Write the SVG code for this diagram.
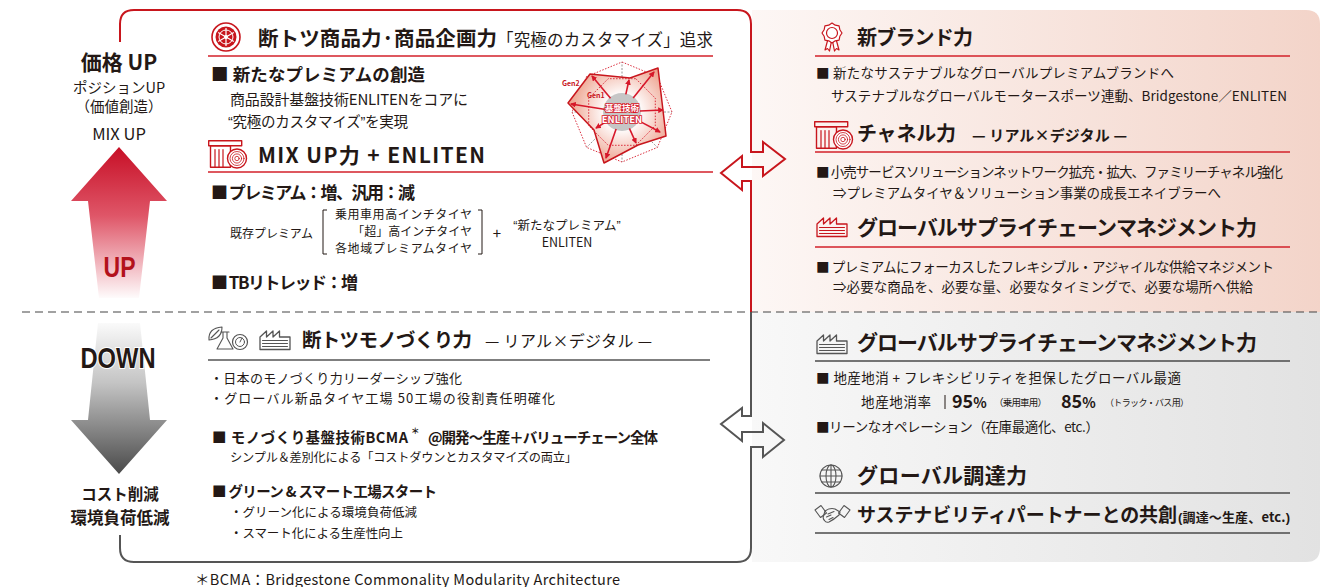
<svg xmlns="http://www.w3.org/2000/svg" xmlns:xlink="http://www.w3.org/1999/xlink" width="1328" height="587" viewBox="0 0 1328 587">
  <defs>
    <style>
      text { font-family: "Noto Sans CJK JP", "Noto Sans", sans-serif; fill: #231815; }
      .b { font-weight: 700; }
      .lat { font-family: "Liberation Sans", Arial, sans-serif; }
      .rb { font-size: 13.5px; }
      .hd { font-size: 21px; font-weight: 700; }
      .rule-red { stroke: #d3202a; stroke-width: 1.3; }
      .rule-dark { stroke: #4a4a4a; stroke-width: 1.3; }
      .ico { fill: none; stroke: currentColor; stroke-linejoin: round; stroke-linecap: round; }
      .frame { fill: none; stroke-width: 2; stroke-linejoin: miter; }
    </style>
    <linearGradient id="gPink" gradientUnits="userSpaceOnUse" x1="752" y1="0" x2="1322" y2="0">
      <stop offset="0" stop-color="#fdf7f5"/>
      <stop offset="1" stop-color="#f3d4c9"/>
    </linearGradient>
    <linearGradient id="gGray" gradientUnits="userSpaceOnUse" x1="752" y1="0" x2="1322" y2="0">
      <stop offset="0" stop-color="#f8f8f8"/>
      <stop offset="1" stop-color="#e2e2e2"/>
    </linearGradient>
    <linearGradient id="gUp" gradientUnits="userSpaceOnUse" x1="0" y1="147" x2="0" y2="300">
      <stop offset="0" stop-color="#c70f26"/>
      <stop offset="0.45" stop-color="#df5668"/>
      <stop offset="1" stop-color="#ffffff"/>
    </linearGradient>
    <linearGradient id="gDown" gradientUnits="userSpaceOnUse" x1="0" y1="322" x2="0" y2="474">
      <stop offset="0" stop-color="#fbfbfb"/>
      <stop offset="0.4" stop-color="#c4c4c4"/>
      <stop offset="1" stop-color="#4a4a4a"/>
    </linearGradient>
    <radialGradient id="gGen2" gradientUnits="userSpaceOnUse" cx="622" cy="112" r="56">
      <stop offset="0.3" stop-color="#ffffff"/>
      <stop offset="1" stop-color="#ec9a84"/>
    </radialGradient>
    <marker id="ah" viewBox="0 0 6 6" refX="5" refY="3" markerWidth="3.6" markerHeight="3.6" orient="auto">
      <path d="M0,0 L6,3 L0,6 Z" fill="#d7182a"/>
    </marker>

    <!-- store front with tyre -->
    <g id="icoStore" class="ico">
      <rect x="0.7" y="0.7" width="33" height="5" stroke-width="1.4"/>
      <rect x="2.5" y="5.7" width="20" height="21.6" stroke-width="1.4"/>
      <path d="M7,9.5 V27 M11,9.5 V27 M15,9.5 V27" stroke-width="1.2"/>
      <circle cx="29" cy="18.5" r="9.5" fill="#fff" stroke-width="1.4"/>
      <circle cx="29" cy="18.5" r="7" stroke-width="0.8"/>
      <circle cx="29" cy="18.5" r="4.6" stroke-width="0.8"/>
      <circle cx="29" cy="18.5" r="2.2" stroke-width="0.8"/>
    </g>
    <!-- factory with saw-tooth roof -->
    <g id="icoFactory" class="ico">
      <path d="M1,20.5 V8 L7.5,2 V8 L14,2 V8 L20.5,2 V8 H31 V20.5 Z" stroke-width="1.3"/>
      <path d="M3.5,11.5 H28.5 M3.5,14.5 H28.5 M3.5,17.5 H28.5" stroke-width="1"/>
    </g>
  </defs>

  <rect width="1328" height="587" fill="#ffffff"/>

  <!-- right-hand panels -->
  <g id="panel-right">
    <path d="M752,10 H1306 Q1320,10 1320,24 V312 H752 Z" fill="url(#gPink)"/>
    <path d="M752,312 H1320 V548 Q1320,562 1306,562 H752 Z" fill="url(#gGray)"/>
  </g>

  <!-- divider between price-up and cost-down halves -->
  <line id="divider" x1="22" y1="312" x2="1320" y2="312" stroke="#444" stroke-width="1.2" stroke-dasharray="8 5"/>

  <!-- frame lines and the two double arrows -->
  <g id="connectors">
    <path class="frame" stroke="#c8161d" d="M120,42 V24 Q120,10 134,10 H737 Q751,10 751,24 V152 H763 V142 L785,159 L763,176 V167 H742 V156 L721,173 L742,190 V181 H751 V312"/>
    <path class="frame" stroke="#555" d="M751,312 V416 H742 V408 L721,424 L742,441 V432 H763 V423 L784,440 L763,457 V447 H751 V548 Q751,562 737,562 H134 Q120,562 120,548 V535"/>
  </g>

  <!-- left column: UP / DOWN arrows -->
  <g id="node-up">
    <text class="b" x="119" y="70" font-size="21" text-anchor="middle">価格 UP</text>
    <text x="119" y="93" font-size="14.5" text-anchor="middle">ポジションUP</text>
    <text x="119" y="112" font-size="14.5" text-anchor="middle">（価値創造）</text>
    <text x="119" y="140" font-size="16.5" text-anchor="middle">MIX UP</text>
    <path d="M119,147 L167,201 H150 L139,298 H99 L88,201 H71 Z" fill="url(#gUp)"/>
    <text class="lat b" x="119.5" y="277" font-size="30" text-anchor="middle" textLength="32" lengthAdjust="spacingAndGlyphs" style="fill:#b3111b">UP</text>
  </g>
  <g id="node-down">
    <path d="M98,323 H140 L150,420 H167 L119,474 L71,420 H88 Z" fill="url(#gDown)"/>
    <text class="lat b" x="118" y="368" font-size="30" text-anchor="middle" textLength="75" lengthAdjust="spacingAndGlyphs" stroke="#ffffff" stroke-width="2" paint-order="stroke">DOWN</text>
    <text class="b" x="120" y="500" font-size="15.5" text-anchor="middle">コスト削減</text>
    <text class="b" x="120" y="524" font-size="16.5" text-anchor="middle">環境負荷低減</text>
  </g>

  <!-- product power -->
  <g id="node-product">
    <g transform="translate(226,37)">
      <circle r="14" fill="#fff" stroke="#c8161d" stroke-width="1.6"/>
      <circle r="10.5" fill="#c8161d"/>
      <circle r="7" fill="none" stroke="#fff" stroke-width="1"/>
      <path d="M0,-9 V9 M-7.8,-4.5 L7.8,4.5 M-7.8,4.5 L7.8,-4.5" stroke="#fff" stroke-width="1.2"/>
      <circle r="2" fill="#fff"/>
    </g>
    <text class="b" x="258" y="46" font-size="20.5" textLength="239">断トツ商品力·商品企画力</text>
    <text x="497" y="46" font-size="16.5" textLength="216">「究極のカスタマイズ」追求</text>
    <line class="rule-red" x1="208" y1="56" x2="713" y2="56"/>
    <text class="b" x="211" y="81" font-size="17.5" textLength="214">■ 新たなプレミアムの創造</text>
    <text x="230" y="105" font-size="15" textLength="238">商品設計基盤技術ENLITENをコアに</text>
    <text x="228" y="127" font-size="14.5" textLength="180"><tspan class="lat">“</tspan>究極のカスタマイズ<tspan class="lat">”</tspan>を実現</text>
  </g>

  <!-- radar chart: Gen1 / Gen2 around the ENLITEN core -->
  <g id="node-radar">
    <path d="M622,112 L622,62 M622,112 L657.4,76.6 M622,112 L672,112 M622,112 L657.4,147.4 M622,112 L622,162 M622,112 L586.6,147.4 M622,112 L572,112 M622,112 L586.6,76.6" stroke="#8a8a8a" stroke-width="0.9" stroke-dasharray="2 1.5"/>
    <polygon points="622,62 657.4,76.6 672,112 657.4,147.4 622,162 586.6,147.4 572,112 586.6,76.6" fill="none" stroke="#d7182a" stroke-width="0.9" stroke-dasharray="1.5 1.5"/>
    <polygon points="590,74 630,78 658,68 666,136 638,145 604,163 594,130 568,103" fill="url(#gGen2)" stroke="#c8161d" stroke-width="1.5" stroke-linejoin="round"/>
    <polygon points="635.8,78.7 655.3,98.2 655.3,125.8 635.8,145.3 608.2,145.3 588.7,125.8 588.7,98.2 608.2,78.7" fill="none" stroke="#d7182a" stroke-width="0.9" stroke-dasharray="1.5 1.5"/>
    <circle cx="622" cy="112" r="19" fill="#c6c6c6"/>
    <g stroke="#d7182a" stroke-width="1.6" marker-end="url(#ah)">
      <line x1="610.5" y1="98.2" x2="592" y2="76"/>
      <line x1="625.8" y1="94.4" x2="629" y2="80"/>
      <line x1="633.2" y1="97.9" x2="654" y2="72"/>
      <line x1="640" y1="111" x2="663" y2="110"/>
      <line x1="638" y1="120.4" x2="660" y2="132"/>
      <line x1="629.4" y1="128.4" x2="636" y2="143"/>
      <line x1="616.1" y1="129" x2="606" y2="158"/>
      <line x1="606.7" y1="121.4" x2="596" y2="128"/>
      <line x1="604.2" y1="109.2" x2="571" y2="104"/>
    </g>
    <text class="b" x="622" y="111" font-size="8.5" text-anchor="middle" stroke="#d7182a" stroke-width="1.6" paint-order="stroke" style="fill:#fff">基盤技術</text>
    <text class="b" x="622" y="122.5" font-size="9.5" text-anchor="middle" stroke="#d7182a" stroke-width="1.6" paint-order="stroke" style="fill:#fff">ENLITEN</text>
    <text class="b" x="562" y="86" font-size="7" style="fill:#c8161d">Gen2</text>
    <text class="b" x="587" y="98" font-size="7" style="fill:#c8161d">Gen1</text>
  </g>

  <!-- mix-up power -->
  <g id="node-mixup">
    <use xlink:href="#icoStore" href="#icoStore" transform="translate(208,140)" color="#c8161d"/>
    <text class="b" x="258" y="163" font-size="21" textLength="227">MIX UP力 + ENLITEN</text>
    <line class="rule-red" x1="208" y1="172" x2="713" y2="172"/>
    <text class="b" x="211" y="199" font-size="17" textLength="204">■ プレミアム：増、汎用：減</text>
    <text x="230" y="238" font-size="12" textLength="83">既存プレミアム</text>
    <path d="M327,210 H323 V254 H327 M478,210 H482 V254 H478" fill="none" stroke="#231815" stroke-width="1"/>
    <text x="335" y="219" font-size="12" textLength="137">乗用車用高インチタイヤ</text>
    <text x="472" y="236" font-size="12" text-anchor="end">「超」高インチタイヤ</text>
    <text x="335" y="253" font-size="12" textLength="137">各地域プレミアムタイヤ</text>
    <text x="497" y="239" font-size="15" text-anchor="middle">+</text>
    <text x="567" y="230" font-size="12.5" text-anchor="middle"><tspan class="lat">“</tspan>新たなプレミアム<tspan class="lat">”</tspan></text>
    <text x="567" y="247" font-size="12.5" text-anchor="middle">ENLITEN</text>
    <text class="b" x="211" y="289" font-size="17" textLength="147">■ TBリトレッド：増</text>
  </g>

  <!-- manufacturing power -->
  <g id="node-manufacturing">
    <g class="ico" color="#555">
      <path d="M209,340 Q208,328 222,327 Q222,339 209,340 Z M211,338 L219,330" stroke-width="1.1"/>
      <path d="M221,332 H229 M223,332 V338 L217,349 H233 L227,338 V332" stroke-width="1.1"/>
      <circle cx="240" cy="342" r="7.5" stroke-width="1.2"/>
      <circle cx="240" cy="342" r="4.5" stroke-width="1"/>
      <path d="M240,342 L242,338" stroke-width="1"/>
    </g>
    <use xlink:href="#icoFactory" href="#icoFactory" transform="translate(259,329)" color="#555"/>
    <text class="b" x="302" y="347" font-size="19.5" textLength="170">断トツモノづくり力</text>
    <text x="485" y="347" font-size="16" textLength="167">— リアル×デジタル —</text>
    <line x1="208" y1="360" x2="710" y2="360" stroke="#555" stroke-width="1.3"/>
    <text x="210" y="383" font-size="13" textLength="252">・日本のモノづくり力リーダーシップ強化</text>
    <text x="210" y="403" font-size="13" textLength="345">・グローバル新品タイヤ工場 50工場の役割責任明確化</text>
    <text class="b" x="212" y="443" font-size="14.5" textLength="196">■ モノづくり基盤技術BCMA</text>
    <text class="b" x="411" y="434" font-size="8.5">＊</text>
    <text class="b" x="428" y="443" font-size="14.5" textLength="230">@開発〜生産＋バリューチェーン全体</text>
    <text x="230" y="462" font-size="12.2" textLength="347">シンプル＆差別化による「コストダウンとカスタマイズの両立」</text>
    <text class="b" x="212" y="497" font-size="14.5" textLength="225">■ グリーン &amp; スマート工場スタート</text>
    <text x="230" y="517" font-size="12.5" textLength="187">・グリーン化による環境負荷低減</text>
    <text x="230" y="538" font-size="12.5" textLength="173">・スマート化による生産性向上</text>
  </g>

  <text id="footnote" x="195" y="585" font-size="14.5" textLength="425">＊BCMA：Bridgestone Commonality Modularity Architecture</text>

  <!-- brand power -->
  <g id="node-brand">
    <g transform="translate(832,33)" fill="#fff" stroke="#c8161d" stroke-width="1.2" stroke-linejoin="round">
      <path d="M-4,6 L-7,17 L-4.5,15.5 L-2.5,18 L-0.5,8 M4,6 L7,17 L4.5,15.5 L2.5,18 L0.5,8"/>
      <polygon points="10,0 7.85,3.25 7.07,7.07 3.25,7.85 0,10 -3.25,7.85 -7.07,7.07 -7.85,3.25 -10,0 -7.85,-3.25 -7.07,-7.07 -3.25,-7.85 0,-10 3.25,-7.85 7.07,-7.07 7.85,-3.25"/>
      <circle r="5.5" fill="none"/>
    </g>
    <text class="b" x="857" y="45" font-size="20" textLength="116">新ブランド力</text>
    <line class="rule-red" x1="815" y1="56" x2="1290" y2="56"/>
    <text class="rb" x="816" y="78" textLength="358">■ 新たなサステナブルなグローバルプレミアムブランドへ</text>
    <text class="rb" x="831" y="101" textLength="456">サステナブルなグローバルモータースポーツ連動、Bridgestone／ENLITEN</text>
  </g>

  <!-- channel power -->
  <g id="node-channel">
    <use xlink:href="#icoStore" href="#icoStore" transform="translate(814,121)" color="#c8161d"/>
    <text class="b" x="857" y="141" font-size="20" textLength="99">チャネル力</text>
    <text class="b" x="972" y="141" font-size="15" textLength="155">— リアル×デジタル —</text>
    <line class="rule-red" x1="815" y1="152" x2="1290" y2="152"/>
    <text class="rb" x="816" y="177" textLength="467">■ 小売サービスソリューションネットワーク拡充・拡大、ファミリーチャネル強化</text>
    <text class="rb" x="833" y="198" textLength="388">⇒プレミアムタイヤ＆ソリューション事業の成長エネイブラーへ</text>
  </g>

  <!-- supply chain (premium side) -->
  <g id="node-scm-up">
    <use xlink:href="#icoFactory" href="#icoFactory" transform="translate(816,216)" color="#c8161d"/>
    <text class="hd" x="857" y="235" textLength="400">グローバルサプライチェーンマネジメント力</text>
    <line class="rule-red" x1="815" y1="247" x2="1290" y2="247"/>
    <text class="rb" x="816" y="272" textLength="458">■ プレミアムにフォーカスしたフレキシブル・アジャイルな供給マネジメント</text>
    <text class="rb" x="833" y="292" textLength="420">⇒必要な商品を、必要な量、必要なタイミングで、必要な場所へ供給</text>
  </g>

  <!-- supply chain (cost side) -->
  <g id="node-scm-down">
    <use xlink:href="#icoFactory" href="#icoFactory" transform="translate(816,333)" color="#555"/>
    <text class="hd" x="857" y="350" textLength="400">グローバルサプライチェーンマネジメント力</text>
    <line class="rule-dark" x1="815" y1="361" x2="1290" y2="361"/>
    <text class="rb" x="816" y="383" textLength="365">■ 地産地消 + フレキシビリティを担保したグローバル最適</text>
    <text class="rb" x="861" y="407" textLength="70">地産地消率</text>
    <line x1="945" y1="395" x2="945" y2="409" stroke="#231815" stroke-width="1"/>
    <text class="b" x="952" y="408" font-size="18">95<tspan font-size="14">%</tspan></text>
    <text x="994" y="406" font-size="9.5" textLength="53">（乗用車用）</text>
    <text class="b" x="1061" y="408" font-size="18">85<tspan font-size="14">%</tspan></text>
    <text x="1105" y="406" font-size="9" textLength="84">（トラック・バス用）</text>
    <text class="rb" x="816" y="432" textLength="283">■リーンなオペレーション（在庫最適化、etc.）</text>
  </g>

  <!-- procurement -->
  <g id="node-procurement">
    <g class="ico" color="#555" stroke-width="1.1">
      <circle cx="831" cy="476" r="11"/>
      <ellipse cx="831" cy="476" rx="5" ry="11"/>
      <path d="M831,465 V487 M820,476 H842 M822,470 H840 M822,482 H840"/>
    </g>
    <text class="b" x="857" y="483" font-size="21" textLength="170">グローバル調達力</text>
    <line class="rule-dark" x1="815" y1="493" x2="1290" y2="493"/>
  </g>

  <!-- co-creation with partners -->
  <g id="node-partners">
    <g class="ico" color="#555" stroke-width="1.1" transform="translate(815,505)">
      <path d="M0,5 L6,0.5 L11.5,8 L5.5,12.5 Z"/>
      <path d="M35,5 L29,0.5 L23.5,8 L29.5,12.5 Z"/>
      <path d="M10,6 Q15,2.5 20,4 L25,7 L24,10 Q19,14.5 14,17 Q11,18 9.5,15.5 Q7.5,13.5 8.5,11 Z"/>
      <path d="M13,9 L19,6.5 M11.5,12 L16,10 M14,14.5 L18,12.5"/>
    </g>
    <text class="b" x="857" y="522" font-size="19" textLength="320">サステナビリティパートナーとの共創</text>
    <text class="b" x="1178" y="522" font-size="13" textLength="112"><tspan class="lat">(</tspan>調達〜生産、etc.<tspan class="lat">)</tspan></text>
    <line class="rule-dark" x1="815" y1="533" x2="1290" y2="533"/>
  </g>
</svg>
